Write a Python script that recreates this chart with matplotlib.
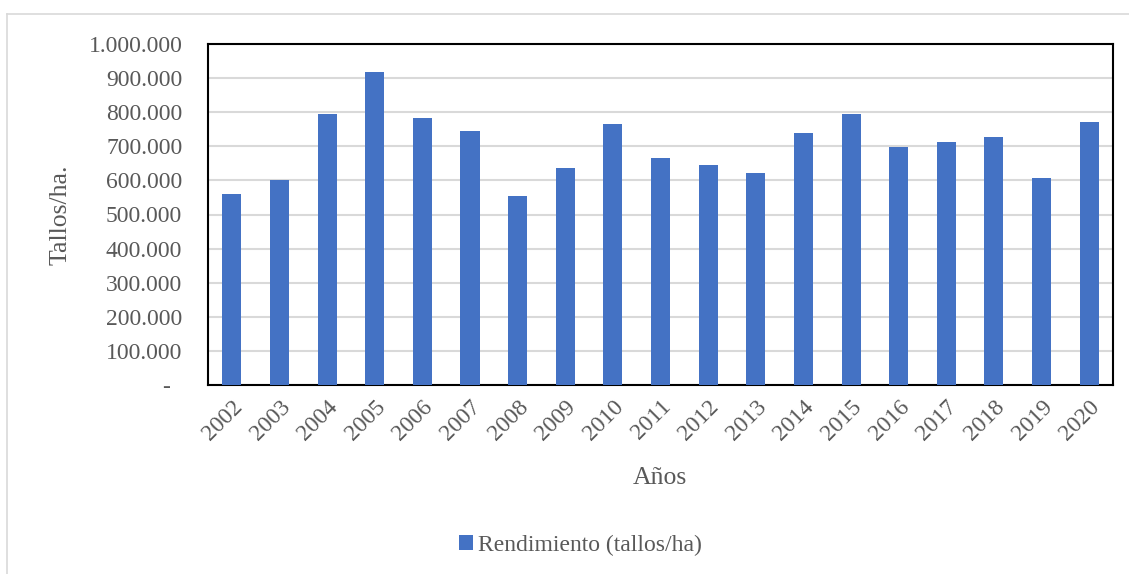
import matplotlib
matplotlib.use("Agg")
import matplotlib.pyplot as plt
from matplotlib.ticker import FuncFormatter, MultipleLocator
from matplotlib.lines import Line2D

years = ["2002", "2003", "2004", "2005", "2006", "2007", "2008", "2009", "2010", "2011",
         "2012", "2013", "2014", "2015", "2016", "2017", "2018", "2019", "2020"]
rendimiento = [560000, 600000, 796000, 917000, 782000, 745000, 555000, 637000, 766000, 667000,
               646000, 621000, 738000, 795000, 698000, 714000, 726000, 608000, 770000]
series_name = "Rendimiento (tallos/ha)"
ylabel = "Tallos/ha."
xlabel = "Años"

plt.rcParams['font.family'] = ['Liberation Serif', 'DejaVu Serif']

fig = plt.figure(figsize=(11.29, 5.74), dpi=100)
ax = fig.add_axes([208/1129, 1 - 385/574, (1113 - 208)/1129, (385 - 44)/574])

x = list(range(len(years)))
bars = ax.bar(x, rendimiento, width=0.4, color="#4472C4", label=series_name, zorder=3)

ax.set_ylim(0, 1000000)
ax.set_xlim(-0.5, len(years) - 0.5)
ax.yaxis.set_major_locator(MultipleLocator(100000))

def fmt(v, pos):
    if abs(v) < 1:
        return "-  "
    return f"{int(round(v)):,}".replace(",", ".")

ax.yaxis.set_major_formatter(FuncFormatter(fmt))
ax.grid(axis="y", color="#D9D9D9", linewidth=1.5, zorder=0)
ax.set_axisbelow(True)

ax.set_xticks(x)
ax.set_xticklabels(years, rotation=45, ha="right", rotation_mode="anchor")
ax.tick_params(axis="both", length=0, labelsize=17, labelcolor="#595959")
ax.tick_params(axis="y", pad=18.5)
ax.tick_params(axis="x", pad=8)

for s in ax.spines.values():
    s.set_color("black")
    s.set_linewidth(1.5)

ax.set_ylabel(ylabel, fontsize=18.5, color="#595959", labelpad=12)
fig.text(660/1129, 1 - 478/574, xlabel, fontsize=18.5, color="#595959", ha="center", va="center")

leg = fig.legend(loc="center", bbox_to_anchor=(580/1129, 1 - 545/574), frameon=False,
                 fontsize=17, handlelength=0.6, handleheight=0.6, handletextpad=0.2)
for t in leg.get_texts():
    t.set_color("#595959")

# outer chart border (light gray)
fig.add_artist(Line2D([7/1129, 7/1129], [0, 1 - 14/574], transform=fig.transFigure, color="#D9D9D9", linewidth=1.2))
fig.add_artist(Line2D([7/1129, 1], [1 - 14/574, 1 - 14/574], transform=fig.transFigure, color="#D9D9D9", linewidth=1.2))

fig.savefig("out.png", dpi=100)
